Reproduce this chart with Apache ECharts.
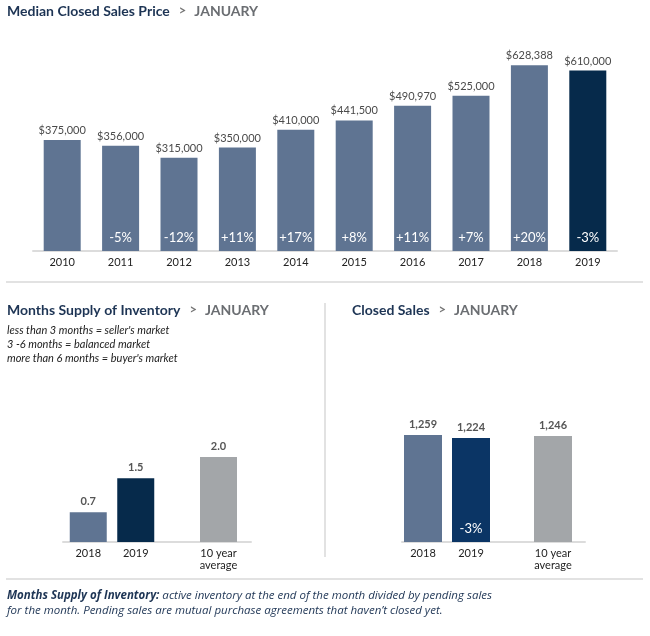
<!DOCTYPE html>
<html>
<head>
<meta charset="utf-8">
<script src="https://cdn.jsdelivr.net/npm/echarts@6/dist/echarts.min.js"></script>
<style>html,body{margin:0;padding:0;background:#fff}#c{width:650px;height:636px}</style>
</head>
<body>
<div id="c"></div>
<script>
// ---- data ----
const years = ['2010','2011','2012','2013','2014','2015','2016','2017','2018','2019'];
const medianPrice = [375000,356000,315000,350000,410000,441500,490970,525000,628388,610000];
const priceChange = ['','-5%','-12%','+11%','+17%','+8%','+11%','+7%','+20%','-3%'];

const supplyYears = ['2018','2019'];
const supplyValues = [0.7,1.5];
const avgCategory = ['10 year\naverage'];
const supplyAvg = [2.0];

const salesYears = ['2018','2019'];
const salesValues = [1259,1224];
const salesChange = ['','-3%'];
const salesAvg = [1246];

const marketNotes = ["less than 3 months = seller's market","3 -6 months = balanced market","more than 6 months = buyer's market"];

// ---- styles ----
const FONT = 'Lato, "Open Sans", sans-serif';
const NOTE_FONT = '"Open Sans", Lato, sans-serif';
const C_MID = '#5f7492';
const C_DARK = '#062a4b';
const C_BLUE = '#0b3565';
const C_GRAY = '#a3a6a9';
const C_LINE = '#dcdcdc';
const NAVY = '#1d3454';

function money(v){ return '$' + v.toLocaleString('en-US'); }

const chart = echarts.init(document.getElementById('c'), null, {renderer:'canvas'});

const titleRich = {
  a:{fontFamily:FONT,fontWeight:'bold',fontSize:14,color:NAVY},
  b:{fontFamily:FONT,fontSize:13,color:'#777',padding:[0,8,0,9]},
  c:{fontFamily:FONT,fontWeight:'bold',fontSize:14,color:'#6b6e72'}
};
function mkTitle(name,left,top){
  return {text:'{a|'+name+'}{b|>}{c|JANUARY}', left:left, top:top, padding:0,
    textStyle:{rich:titleRich}};
}

const catAxisBase = (gridIndex,data,show)=>({
  type:'category', gridIndex, data,
  axisLine:{show:show, lineStyle:{color:C_LINE,width:2}},
  axisTick:{show:false},
  axisLabel:{show:data.length>0 && data[0]!=='', color:'#222', fontFamily:FONT, fontSize:11, margin:5, lineHeight:12, interval:0}
});
const valAxis = (gridIndex,max)=>({type:'value',gridIndex,min:0,max,show:false});

const option = {
  animation:false,
  title:[
    mkTitle('Median Closed Sales Price',7,4),
    mkTitle('Months Supply of Inventory',7,303),
    mkTitle('Closed Sales',352,303),
    {text:marketNotes.join('\n'), left:7, top:323, padding:0,
      textStyle:{fontFamily:FONT,fontStyle:'italic',fontSize:11,fontWeight:'normal',color:'#222',lineHeight:14}},
    {text:'{b|Months Supply of Inventory:} active inventory at the end of the month divided by pending sales\nfor the month. Pending sales are mutual purchase agreements that haven\u2019t closed yet.',
      left:7, top:588, padding:0,
      textStyle:{fontFamily:NOTE_FONT,fontStyle:'italic',fontSize:11.5,fontWeight:'normal',color:NAVY,lineHeight:15,
        rich:{b:{fontFamily:NOTE_FONT,fontStyle:'italic',fontWeight:'bold',fontSize:11.5,color:NAVY,lineHeight:15}}}}
  ],
  graphic:[
    {type:'line',shape:{x1:6,y1:282,x2:643,y2:282},style:{stroke:'#e2e2e2',lineWidth:2}},
    {type:'line',shape:{x1:325,y1:303,x2:325,y2:557},style:{stroke:'#e2e2e2',lineWidth:2}},
    {type:'line',shape:{x1:6,y1:579,x2:643,y2:579},style:{stroke:'#e2e2e2',lineWidth:2}}
  ],
  grid:[
    {left:33,width:584,top:44,height:207},
    {left:63,width:188,top:414.5,height:127.5},
    {left:64.5,width:95,top:414.5,height:127.5},
    {left:186,width:65,top:414.5,height:127.5},
    {left:402,width:183,top:414.5,height:127.5},
    {left:399,width:96,top:414.5,height:127.5},
    {left:521,width:64,top:414.5,height:127.5}
  ],
  xAxis:[
    catAxisBase(0,years,true),
    catAxisBase(1,[''],true),
    catAxisBase(2,supplyYears,false),
    catAxisBase(3,avgCategory,false),
    catAxisBase(4,[''],true),
    catAxisBase(5,salesYears,false),
    catAxisBase(6,avgCategory,false)
  ],
  yAxis:[
    valAxis(0,700000), valAxis(1,3), valAxis(2,3), valAxis(3,3),
    valAxis(4,1500), valAxis(5,1500), valAxis(6,1500)
  ],
  series:[
    {type:'bar',xAxisIndex:0,yAxisIndex:0,barWidth:37,
      data:medianPrice.map((v,i)=>({value:v,itemStyle:{color:i===years.length-1?C_DARK:C_MID}})),
      label:{show:true,position:'top',distance:4,color:'#4a4a4a',fontFamily:FONT,fontSize:11,formatter:p=>money(p.value)}},
    {type:'bar',xAxisIndex:0,yAxisIndex:0,barWidth:37,barGap:'-100%',silent:true,
      data:medianPrice,itemStyle:{color:'rgba(0,0,0,0)'},
      label:{show:true,position:'insideBottom',distance:7,color:'#fff',fontFamily:FONT,fontSize:13,formatter:p=>priceChange[p.dataIndex]}},
    // months supply
    {type:'bar',xAxisIndex:2,yAxisIndex:2,barWidth:37,
      data:supplyValues.map((v,i)=>({value:v,itemStyle:{color:i===1?C_DARK:C_MID}})),
      label:{show:true,position:'top',distance:5,color:'#555',fontFamily:FONT,fontWeight:'bold',fontSize:11,formatter:p=>p.value.toFixed(1)}},
    {type:'bar',xAxisIndex:3,yAxisIndex:3,barWidth:37,
      data:supplyAvg,itemStyle:{color:C_GRAY},
      label:{show:true,position:'top',distance:5,color:'#555',fontFamily:FONT,fontWeight:'bold',fontSize:11,formatter:p=>p.value.toFixed(1)}},
    // closed sales
    {type:'bar',xAxisIndex:5,yAxisIndex:5,barWidth:38,
      data:salesValues.map((v,i)=>({value:v,itemStyle:{color:i===1?C_BLUE:C_MID}})),
      label:{show:true,position:'top',distance:5,color:'#555',fontFamily:FONT,fontWeight:'bold',fontSize:11,formatter:p=>p.value.toLocaleString('en-US')}},
    {type:'bar',xAxisIndex:5,yAxisIndex:5,barWidth:38,barGap:'-100%',silent:true,
      data:salesValues,itemStyle:{color:'rgba(0,0,0,0)'},
      label:{show:true,position:'insideBottom',distance:7,color:'#fff',fontFamily:FONT,fontSize:13,formatter:p=>salesChange[p.dataIndex]}},
    {type:'bar',xAxisIndex:6,yAxisIndex:6,barWidth:38,
      data:salesAvg,itemStyle:{color:C_GRAY},
      label:{show:true,position:'top',distance:5,color:'#555',fontFamily:FONT,fontWeight:'bold',fontSize:11,formatter:p=>p.value.toLocaleString('en-US')}}
  ]
};
chart.setOption(option);
</script>
</body>
</html>
